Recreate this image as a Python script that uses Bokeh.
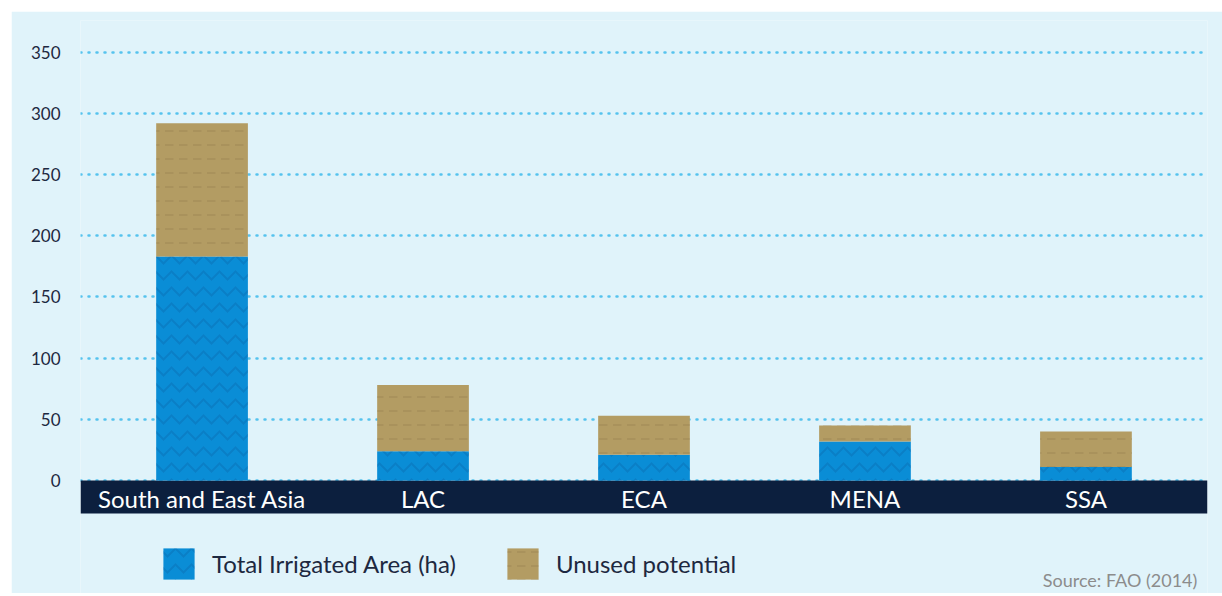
from bokeh.plotting import figure
from bokeh.models import (FactorRange, Range1d, FixedTicker, Legend, LegendItem,
                          BoxAnnotation, Label)
from bokeh.core.properties import value
from bokeh.embed import file_html
from bokeh.resources import INLINE

# ---- data ----
regions = ["South and East Asia", "LAC", "ECA", "MENA", "SSA"]
irrigated = [183, 24, 21, 32, 11]
unused = [109, 54, 32, 13, 29]
y_ticks = [0, 50, 100, 150, 200, 250, 300, 350]
series_labels = ["Total Irrigated Area (ha)", "Unused potential"]
source_text = "Source: FAO (2014)"

BG = "#E0F3FA"
BLUE = "#0A8DD6"
SAND = "#B39C63"
NAVY = "#0C1F3E"
TEXT = "#1D2840"
FONT = "Lato"

p = figure(width=1211, height=582, output_backend="svg", toolbar_location=None,
           x_range=FactorRange(factors=regions, range_padding=0.05,
                               range_padding_units="absolute"),
           y_range=Range1d(-92.3, 375.9),
           min_border_left=69, min_border_right=15, min_border_top=9,
           min_border_bottom=0)
p.margin = (11, 0, 0, 11)
p.background_fill_color = BG
p.border_fill_color = BG
p.outline_line_color = None

src = dict(regions=regions, irrigated=irrigated, unused=unused)
rs = p.vbar_stack(["irrigated", "unused"], x="regions", width=0.415,
                  color=[BLUE, SAND], line_color=None, source=src,
                  hatch_pattern=["horizontal_wave", "horizontal_dash"],
                  hatch_color=["#0865A8", "#927C4C"],
                  hatch_alpha=[0.35, 0.3], hatch_scale=[16, 14],
                  hatch_weight=[2, 2])

# axes
p.xaxis.visible = False
p.xgrid.visible = False
p.yaxis.ticker = FixedTicker(ticks=y_ticks)
p.yaxis.axis_line_color = None
p.yaxis.major_tick_line_color = None
p.yaxis.minor_tick_line_color = None
p.yaxis.major_label_standoff = 14
p.yaxis.major_label_text_font = FONT
p.yaxis.major_label_text_font_size = "17px"
p.yaxis.major_label_text_color = TEXT

p.ygrid.ticker = FixedTicker(ticks=y_ticks)
p.ygrid.grid_line_color = "#55C3EE"
p.ygrid.grid_line_width = 2.5
p.ygrid.grid_line_dash = "1 7"
p.ygrid.grid_line_cap = "round"

# dark category band
p.add_layout(BoxAnnotation(bottom=-27, top=0, fill_color=NAVY, fill_alpha=1,
                           line_color=None, level="underlay"))
p.text(x=regions, y=-14.5, text=regions, text_color="white",
       text_font=value(FONT), text_font_size="24px", text_align="center",
       text_baseline="middle")

# legend
legend = Legend(items=[LegendItem(label=series_labels[0], renderers=[rs[0]]),
                       LegendItem(label=series_labels[1], renderers=[rs[1]])],
                location=(79, 10), orientation="horizontal",
                glyph_width=39, glyph_height=39, label_standoff=14, spacing=47,
                padding=0, margin=0, border_line_color=None,
                background_fill_alpha=0, label_text_font=FONT,
                label_text_font_size="24px", label_text_color=TEXT)
p.add_layout(legend, "center")

p.add_layout(Label(x=5.004, y=-81, text=source_text, text_align="right",
                   text_baseline="middle", text_font=FONT,
                   text_font_size="18px", text_color="#8C8C8C"))

open("out.html", "w").write(file_html(p, INLINE))
